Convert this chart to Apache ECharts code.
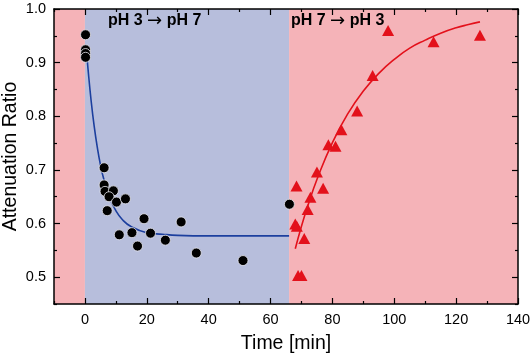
<!DOCTYPE html>
<html>
<head>
<meta charset="utf-8">
<script src="https://cdn.jsdelivr.net/npm/echarts@6/dist/echarts.min.js"></script>
<style>
html,body{margin:0;padding:0;background:#fff;}
#chart{width:532px;height:356px;}
</style>
</head>
<body>
<div id="chart"></div>
<script>
// 刻度
var xTicks=[0,20,40,60,80,100,120,140];
var xMinor=[-10,10,30,50,70,90,110,130];
var yTicks=[0.5,0.6,0.7,0.8,0.9,1.0];
var yMinor=[0.45,0.55,0.65,0.75,0.85,0.95];

// 背景区间 [起, 止]
var phAcid1=[-10,0];
var phNeutral=[0,66];
var phAcid2=[66,140];

// pH 3 -> pH 7 实测点
var dropTime=[0.2,0.2,0.2,0.2,6.2,6.2,6.5,9.2,7.8,10.2,13.1,7.2,19.1,31.1,11.1,15.2,21.2,26.0,17.0,36.0,51.1,66.1];
var dropRatio=[0.952,0.924,0.917,0.910,0.704,0.672,0.660,0.661,0.650,0.640,0.646,0.624,0.609,0.603,0.579,0.583,0.582,0.569,0.558,0.545,0.531,0.636];
// 拟合曲线
var dropFitTime=[0.5,1,2,3,4,5,6,8,10,12,15,20,25,30,40,50,66];
var dropFitRatio=[0.923,0.888,0.829,0.781,0.742,0.710,0.685,0.648,0.624,0.608,0.594,0.583,0.580,0.578,0.577,0.577,0.577];

// pH 7 -> pH 3 实测点
var riseTime=[98.0,112.7,127.7,93.0,88.0,82.9,78.7,81.0,75.0,68.4,77.0,72.9,72.0,68.0,68.5,70.9,68.9,70.0];
var riseRatio=[0.960,0.939,0.951,0.876,0.810,0.775,0.747,0.744,0.696,0.670,0.666,0.649,0.626,0.599,0.595,0.572,0.503,0.503];
var riseFitTime=[68,70,72,75,80,85,90,95,100,105,110,115,120,124,127.7];
var riseFitRatio=[0.553,0.595,0.632,0.682,0.751,0.805,0.847,0.880,0.906,0.927,0.942,0.955,0.965,0.971,0.976];

var toPairs=function(xs,ys){
	var out=[];
	for(var i=0;i<xs.length;i++){
		out.push([xs[i],ys[i]]);
	}
	return out;
}

var dom=document.getElementById("chart");
var myChart=echarts.init(dom,null,{renderer:'canvas'});

var font='"Liberation Sans", Arial, sans-serif';
var pink='#f5b3b8';
var blue='#b7bedc';

var mkX=function(pos,ticks,len,showLabel,showLine){
	return {
		type:'value',position:pos,min:-10,max:140,
		splitLine:{show:false},
		axisLine:{show:showLine,onZero:false,lineStyle:{color:'#000',width:1.5}},
		axisTick:{show:true,inside:true,length:len,customValues:ticks,lineStyle:{color:'#000',width:1.2}},
		axisLabel:{show:showLabel,customValues:ticks,color:'#000',fontSize:14.5,fontFamily:font,margin:8},
		name:showLabel?'Time [min]':'',
		nameLocation:'middle',nameGap:30,nameMoveOverlap:false,
		nameTextStyle:{color:'#000',fontSize:19.5,fontFamily:font},
		z:10
	};
}
var mkY=function(pos,ticks,len,showLabel,showLine){
	return {
		type:'value',position:pos,min:0.45,max:1.0,
		splitLine:{show:false},
		axisLine:{show:showLine,onZero:false,lineStyle:{color:'#000',width:1.5}},
		axisTick:{show:true,inside:true,length:len,customValues:ticks,lineStyle:{color:'#000',width:1.2}},
		axisLabel:{show:showLabel,customValues:ticks,color:'#000',fontSize:14.5,fontFamily:font,margin:8,
			formatter:function(v){return v.toFixed(1);}},
		name:showLabel?'Attenuation Ratio':'',
		nameLocation:'middle',nameGap:33,nameMoveOverlap:false,
		nameTextStyle:{color:'#000',fontSize:19.5,fontFamily:font},
		z:10
	};
}

var phText=function(a,b,left){
	return {
		type:'text',left:left,top:12,z:100,
		style:{
			text:'{t|pH '+a+' }{a|\u2192}{t| pH '+b+'}',
			rich:{
				t:{fill:'#000',font:'bold 16px '+font},
				a:{fill:'#000',font:'18px "DejaVu Sans", sans-serif'}
			}
		}
	};
}

var option={
	animation:false,
	backgroundColor:'#fff',
	grid:{left:54,right:14,top:9,bottom:52,outerBoundsMode:'none',containLabel:false},
	xAxis:[
		mkX('bottom',xTicks,6,true,true),
		mkX('bottom',xMinor,3,false,false),
		mkX('top',xTicks,6,false,true),
		mkX('top',xMinor,3,false,false)
	],
	yAxis:[
		mkY('left',yTicks,6,true,true),
		mkY('left',yMinor,3,false,false),
		mkY('right',yTicks,6,false,true),
		mkY('right',yMinor,3,false,false)
	],
	graphic:[
		phText(3,7,108),
		phText(7,3,291)
	],
	series:[
		{
			name:'bg',type:'line',data:[],silent:true,
			markArea:{
				silent:true,
				data:[
					[{xAxis:phAcid1[0],itemStyle:{color:pink}},{xAxis:phAcid1[1]}],
					[{xAxis:phNeutral[0],itemStyle:{color:blue}},{xAxis:phNeutral[1]}],
					[{xAxis:phAcid2[0],itemStyle:{color:pink}},{xAxis:phAcid2[1]}]
				]
			}
		},
		{
			name:'dropFit',type:'line',smooth:true,symbol:'none',
			data:toPairs(dropFitTime,dropFitRatio),
			lineStyle:{color:'#1c3f9e',width:1.6},z:3
		},
		{
			name:'riseFit',type:'line',smooth:true,symbol:'none',
			data:toPairs(riseFitTime,riseFitRatio),
			lineStyle:{color:'#e3111b',width:1.6},z:3
		},
		{
			name:'drop',type:'scatter',symbol:'circle',symbolSize:10,
			data:toPairs(dropTime,dropRatio),
			itemStyle:{color:'#000',borderColor:'#e8e8f0',borderWidth:0.8,opacity:1},z:4
		},
		{
			name:'rise',type:'scatter',symbol:'triangle',symbolSize:[12,11],
			data:toPairs(riseTime,riseRatio),
			itemStyle:{color:'#e3111b',opacity:1},z:4
		}
	]
};
if(option && typeof option==="object"){
	myChart.setOption(option,true);
}
</script>
</body>
</html>
